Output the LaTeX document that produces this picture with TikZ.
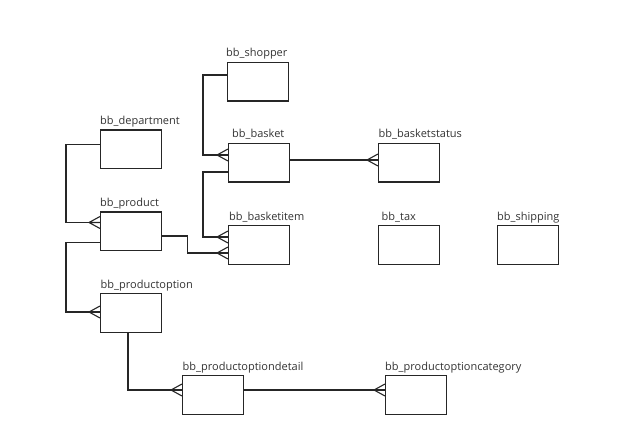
\documentclass[tikz,border=0pt]{standalone}
\usepackage{fontspec}
\setmainfont{Open Sans}
\usetikzlibrary{calc}
\tikzset{
  tbl/.style={draw=black!85, line width=1.1pt, minimum width=61pt, minimum height=38.5pt, inner sep=0pt, anchor=north west},
  lbl/.style={anchor=base west, inner sep=0pt, font=\fontsize{11}{13}\selectfont, text=black!80},
  conn/.style={draw=black!85, line width=1.1pt},
}
\newcommand\crowft[1]{\draw[conn] (#1) ++(-11,0) -- ++(11,-6) (#1) ++(-11,0) -- ++(11,6) (#1) ++(-11,0) -- (#1);}
\begin{document}
\begin{tikzpicture}[x=1pt,y=-1pt]
\useasboundingbox (0,0) rectangle (619,425);
% tables
\node[tbl] (shopper) at (227,62) {};
\node[tbl] (department) at (100,129.5) {};
\node[tbl] (basket) at (228,143) {};
\node[tbl] (basketstatus) at (378,143) {};
\node[tbl] (product) at (100,211.5) {};
\node[tbl] (basketitem) at (228,225) {};
\node[tbl] (tax) at (378,225) {};
\node[tbl] (shipping) at (497,225) {};
\node[tbl] (productoption) at (100,293) {};
\node[tbl] (detail) at (182,375) {};
\node[tbl] (category) at (385,375) {};
% labels
\node[lbl] (lshopper) at ($(shopper.north west)+(-1,-5)$) {bb\_shopper};
\node[lbl] (ldepartment) at ($(department.north west)+(0,-5)$) {bb\_department};
\node[lbl] (lbasket) at ($(basket.north west)+(4,-5)$) {bb\_basket};
\node[lbl] (lbasketstatus) at ($(basketstatus.north west)+(0.5,-5)$) {bb\_basketstatus};
\node[lbl] (lproduct) at ($(product.north west)+(0,-5)$) {bb\_product};
\node[lbl] (lbasketitem) at ($(basketitem.north west)+(1,-5)$) {bb\_basketitem};
\node[lbl] (ltax) at ($(tax.north west)+(3.5,-5)$) {bb\_tax};
\node[lbl] (lshipping) at ($(shipping.north west)+(0,-5)$) {bb\_shipping};
\node[lbl] (lproductoption) at ($(productoption.north west)+(0.5,-5)$) {bb\_productoption};
\node[lbl] (ldetail) at ($(detail.north west)+(0.5,-5)$) {bb\_productoptiondetail};
\node[lbl] (lcategory) at ($(category.north west)+(0,-5)$) {bb\_productoptioncategory};
% connectors
\coordinate (a1) at ($(shopper.north west)+(0,13)$);
\coordinate (b1) at ($(basket.north west)+(0,12)$);
\draw[conn] (a1) -- ++(-24,0) |- (b1);
\crowft{b1}
\coordinate (a2) at ($(basket.north west)+(0,29)$);
\coordinate (b2) at ($(basketitem.north west)+(0,12)$);
\draw[conn] (a2) -- ++(-25,0) |- (b2);
\crowft{b2}
\coordinate (a3) at ($(product.north east)+(0,24.5)$);
\coordinate (b3) at ($(basketitem.north west)+(0,28)$);
\draw[conn] (a3) -- ++(25,0) |- (b3);
\crowft{b3}
\coordinate (a4) at ($(department.north west)+(0,15)$);
\coordinate (b4) at ($(product.north west)+(0,11)$);
\draw[conn] (a4) -- ++(-34,0) |- (b4);
\crowft{b4}
\coordinate (a5) at ($(product.north west)+(0,31)$);
\coordinate (b5) at ($(productoption.north west)+(0,19)$);
\draw[conn] (a5) -- ++(-34,0) |- (b5);
\crowft{b5}
\coordinate (a6) at ($(productoption.south west)+(28,0)$);
\coordinate (b6) at ($(detail.north west)+(0,15)$);
\draw[conn] (a6) |- (b6);
\crowft{b6}
\coordinate (a7) at ($(detail.north east)+(0,15)$);
\coordinate (b7) at ($(category.north west)+(0,15)$);
\draw[conn] (a7) -- (b7);
\crowft{b7}
\coordinate (a8) at ($(basket.north east)+(0,17)$);
\coordinate (b8) at ($(basketstatus.north west)+(0,17)$);
\draw[conn] (a8) -- (b8);
\crowft{b8}
\end{tikzpicture}
\end{document}
